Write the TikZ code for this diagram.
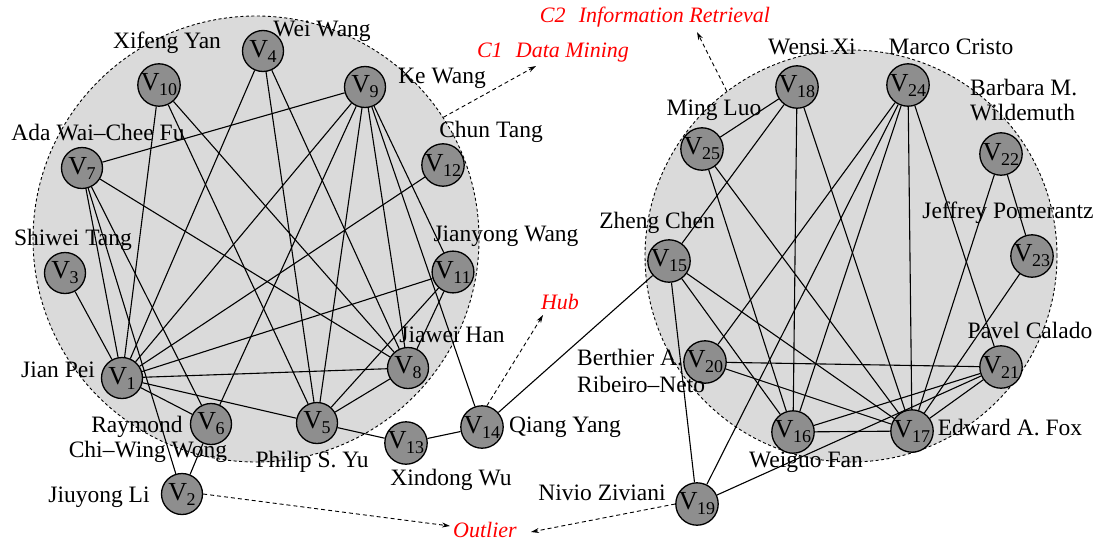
\documentclass[tikz,border=0pt]{standalone}
\usepackage{fontspec}
\setmainfont{Liberation Serif}
\usetikzlibrary{arrows.meta}
\definecolor{clustergray}{RGB}{218,218,218}
\definecolor{nodegray}{RGB}{142,142,142}
\newcommand{\vl}[1]{V\kern-0.5pt\raisebox{-5pt}{\fontsize{18}{18}\selectfont #1}}

\begin{document}
\begin{tikzpicture}[x=1pt,y=-1pt,
  group/.style={circle,draw,dash pattern=on 3pt off 2.5pt,fill=clustergray,line width=0.9pt,minimum size=#1,inner sep=0},
  vtx/.style={circle,draw,line width=1.3pt,fill=nodegray,minimum size=41pt,inner sep=0,font=\fontsize{26}{26}\selectfont},
  who/.style={inner sep=0,font=\fontsize{23.5}{25}\selectfont},
  tag/.style={inner sep=0,text=red,font=\fontsize{22}{24}\selectfont\itshape},
  link/.style={line width=1.1pt},
  pointer/.style={dash pattern=on 4pt off 3pt,line width=0.9pt,-{Stealth[length=8pt,width=5pt]}}]
\useasboundingbox (0,0) rectangle (1097,541);

% the two communities
\node[group=446pt] (C1) at (256,239) {};
\node[group=412pt] (C2) at (851,256) {};

% vertices of C1
\node[vtx] (v1) at (122,378) {\vl{1}};
\node[vtx] (v2) at (182,494) {\vl{2}};
\node[vtx] (v3) at (65,273) {\vl{3}};
\node[vtx] (v4) at (263,51) {\vl{4}};
\node[vtx] (v5) at (317,423) {\vl{5}};
\node[vtx] (v6) at (211,424) {\vl{6}};
\node[vtx] (v7) at (82,168) {\vl{7}};
\node[vtx] (v8) at (408,368) {\vl{8}};
\node[vtx] (v9) at (365,87) {\vl{9}};
\node[vtx] (v10) at (159,85) {\vl{10}};
\node[vtx] (v11) at (453,272) {\vl{11}};
\node[vtx] (v12) at (443,165) {\vl{12}};
\node[vtx] (v13) at (406,443) {\vl{13}};
\node[vtx] (v14) at (482,427) {\vl{14}};

% vertices of C2
\node[vtx] (v15) at (669,261) {\vl{15}};
\node[vtx] (v16) at (793,432) {\vl{16}};
\node[vtx] (v17) at (912,431) {\vl{17}};
\node[vtx] (v18) at (797,87) {\vl{18}};
\node[vtx] (v19) at (697,504) {\vl{19}};
\node[vtx] (v20) at (705,362) {\vl{20}};
\node[vtx] (v21) at (1001,367) {\vl{21}};
\node[vtx] (v22) at (1001,154) {\vl{22}};
\node[vtx] (v23) at (1032,256) {\vl{23}};
\node[vtx] (v24) at (908,85) {\vl{24}};
\node[vtx] (v25) at (702,149) {\vl{25}};

% edges
\draw[link] (v1) -- (v3) (v1) -- (v7) (v1) -- (v10) (v1) -- (v4) (v1) -- (v9)
  (v1) -- (v12) (v1) -- (v11) (v1) -- (v8) (v1) -- (v5) (v1) -- (v6);
\draw[link] (v7) -- (v9) (v7) -- (v2) (v7) -- (v6) (v7) -- (v8);
\draw[link] (v10) -- (v5) (v10) -- (v8) (v4) -- (v5) (v4) -- (v8);
\draw[link] (v9) -- (v6) (v9) -- (v5) (v9) -- (v8) (v9) -- (v14) (v9) -- (v11);
\draw[link] (v11) -- (v8) (v11) -- (v5) (v8) -- (v5) (v6) -- (v2);
\draw[link] (v5) -- (v13) (v13) -- (v14) (v14) -- (v15);
\draw[link] (v15) -- (v18) (v15) -- (v19) (v15) -- (v16) (v15) -- (v17);
\draw[link] (v25) -- (v18) (v25) -- (v16) (v25) -- (v17) (v18) -- (v16) (v18) -- (v17);
\draw[link] (v24) -- (v20) (v24) -- (v19) (v24) -- (v16) (v24) -- (v17) (v24) -- (v21);
\draw[link] (v22) -- (v23) (v22) -- (v17) (v23) -- (v17);
\draw[link] (v21) -- (v20) (v21) -- (v17) (v21) -- (v16) (v21) -- (v19);
\draw[link] (v20) -- (v17) (v16) -- (v17);

% author names
\node[who] (w1) at (58,370) {Jian Pei};
\node[who] (w2) at (99,497) {Jiuyong Li};
\node[who] (w3) at (73,240) {Shiwei Tang};
\node[who] (w4) at (322,31) {Wei Wang};
\node[who] (w5) at (312,462) {Philip S. Yu};
\node[who] (w6a) at (137,427) {Raymond};
\node[who] (w6b) at (148,452) {Chi--Wing Wong};
\node[who] (w7) at (98,133) {Ada Wai--Chee Fu};
\node[who] (w8) at (452,335) {Jiawei Han};
\node[who] (w9) at (442,78) {Ke Wang};
\node[who] (w10) at (167,43) {Xifeng Yan};
\node[who] (w11) at (506,236) {Jianyong Wang};
\node[who] (w12) at (491,132) {Chun Tang};
\node[who] (w13) at (451,480) {Xindong Wu};
\node[who] (w14) at (565,427) {Qiang Yang};
\node[who] (w15) at (657,223) {Zheng Chen};
\node[who] (w16) at (806,462) {Weiguo Fan};
\node[who] (w17) at (1010,428) {Edward A. Fox};
\node[who] (w18) at (812,47) {Wensi Xi};
\node[who] (w19) at (602,493) {Nivio Ziviani};
\node[who,align=left,anchor=west,font=\fontsize{23.5}{27}\selectfont] (w20) at (577,371) {Berthier A.\\Ribeiro--Neto};
\node[who] (w21) at (1030,330) {Pavel Calado};
\node[who,align=left,anchor=west] (w22) at (970,100) {Barbara M.\\Wildemuth};
\node[who] (w23) at (1008,213) {Jeffrey Pomerantz};
\node[who] (w24) at (951,47) {Marco Cristo};
\node[who] (w25) at (714,110) {Ming Luo};

% roles
\node[tag] (tc1) at (553,53) {C1\hspace{0.6em}Data Mining};
\node[tag] (tc2) at (655,17) {C2\hspace{0.6em}Information Retrieval};
\node[tag] (thub) at (560,302) {Hub};
\node[tag] (tout) at (485,530) {Outlier};
\coordinate (c1tip) at (536,66);
\coordinate (c2tip) at (697,32);
\coordinate (hubtip) at (543,315);
\coordinate (outl) at (450,526);
\coordinate (outr) at (531,532);
\draw[pointer] (C1.33) -- (c1tip);
\draw[pointer] (C2.127) -- (c2tip);
\draw[pointer] (v14.77) -- (hubtip);
\draw[pointer] (v2.east) -- (outl);
\draw[pointer] (v19.west) -- (outr);
\end{tikzpicture}
\end{document}
